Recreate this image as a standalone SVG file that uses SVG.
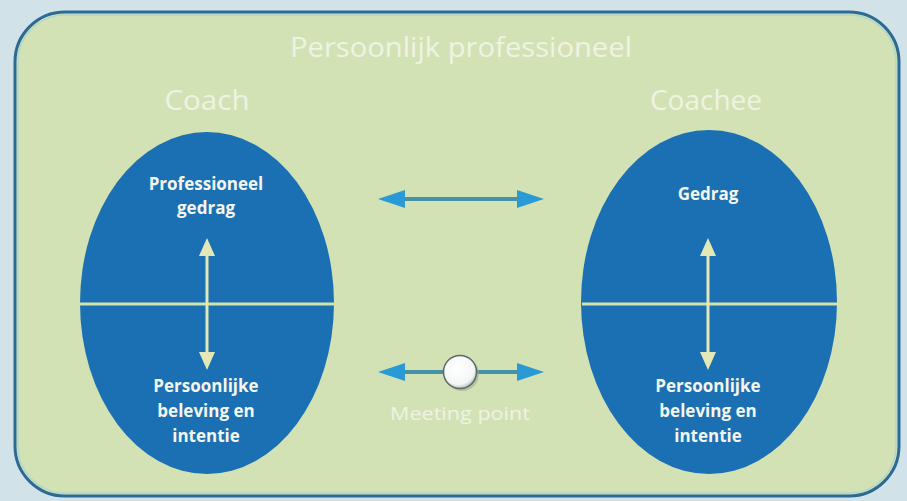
<svg xmlns="http://www.w3.org/2000/svg" width="907" height="501" viewBox="0 0 907 501">
<defs>
<style>
.t{font-family:"Open Sans","DejaVu Sans",sans-serif;fill:#eef3e2;text-anchor:middle;font-weight:400}
.b{font-family:"Open Sans","DejaVu Sans",sans-serif;fill:#f4f6ee;text-anchor:middle;font-weight:700;font-size:17px}
.ell{fill:#1b70b3}
.div{stroke:#d3e2a8;stroke-width:3}
.va{stroke:#e3e8b6;stroke-width:3}
.vh{fill:#e3e8b6}
.ha{stroke:#4691a8;stroke-width:4}
.hh{fill:#2a9ad6}
</style>
<radialGradient id="ball" cx="0.45" cy="0.4" r="0.6">
<stop offset="0" stop-color="#ffffff"/><stop offset="0.8" stop-color="#f4f6f6"/><stop offset="1" stop-color="#b8c0c0"/>
</radialGradient>
</defs>
<rect width="907" height="501" fill="#d2e2e9"/>
<g id="frame">
<rect x="15" y="12" width="884" height="484" rx="50" fill="#d3e2b5" stroke="#2c6a93" stroke-width="3"/>
<rect x="18" y="15" width="878" height="478" rx="47" fill="none" stroke="#a9d3d4" stroke-width="1.5" opacity="0.8"/>
<text class="t" x="461" y="57" font-size="28" textLength="342" lengthAdjust="spacingAndGlyphs">Persoonlijk professioneel</text>
</g>
<g id="coach">
<text class="t" x="207" y="110" font-size="27" textLength="85" lengthAdjust="spacingAndGlyphs">Coach</text>
<ellipse class="ell" cx="207" cy="303" rx="127" ry="171"/>
<line class="div" x1="80" y1="304" x2="334" y2="304"/>
<text class="b" x="206" y="190">Professioneel</text>
<text class="b" x="206" y="214">gedrag</text>
<text class="b" x="206" y="392">Persoonlijke</text>
<text class="b" x="206" y="417">beleving en</text>
<text class="b" x="206" y="442">intentie</text>
</g>
<g id="coachee">
<text class="t" x="706" y="110" font-size="27" textLength="112" lengthAdjust="spacingAndGlyphs">Coachee</text>
<ellipse class="ell" cx="709" cy="302" rx="128" ry="172"/>
<line class="div" x1="582" y1="304" x2="837" y2="304"/>
<text class="b" x="708" y="200">Gedrag</text>
<text class="b" x="708" y="392">Persoonlijke</text>
<text class="b" x="708" y="417">beleving en</text>
<text class="b" x="708" y="442">intentie</text>
</g>
<g id="connectors">
<line class="va" x1="207" y1="252" x2="207" y2="356"/>
<polygon class="vh" points="207,238 199,256 215,256"/>
<polygon class="vh" points="207,370 199,352 215,352"/>
<line class="va" x1="708" y1="252" x2="708" y2="356"/>
<polygon class="vh" points="708,238 700,256 716,256"/>
<polygon class="vh" points="708,370 700,352 716,352"/>
<line class="ha" x1="400" y1="199" x2="522" y2="199"/>
<polygon class="hh" points="378,199 405,190 405,208"/>
<polygon class="hh" points="544,199 517,190 517,208"/>
<line class="ha" x1="400" y1="372" x2="522" y2="372"/>
<polygon class="hh" points="378,372 405,363 405,381"/>
<polygon class="hh" points="544,372 517,363 517,381"/>
</g>
<g id="meeting">
<circle cx="462" cy="374" r="17" fill="#9aa890" opacity="0.6"/>
<circle cx="460" cy="372" r="16.5" fill="url(#ball)" stroke="#5c6a66" stroke-width="1.5"/>
<text class="t" x="460" y="420" font-size="18" textLength="140" lengthAdjust="spacingAndGlyphs" fill="#eef2e4">Meeting point</text>
</g>
</svg>
